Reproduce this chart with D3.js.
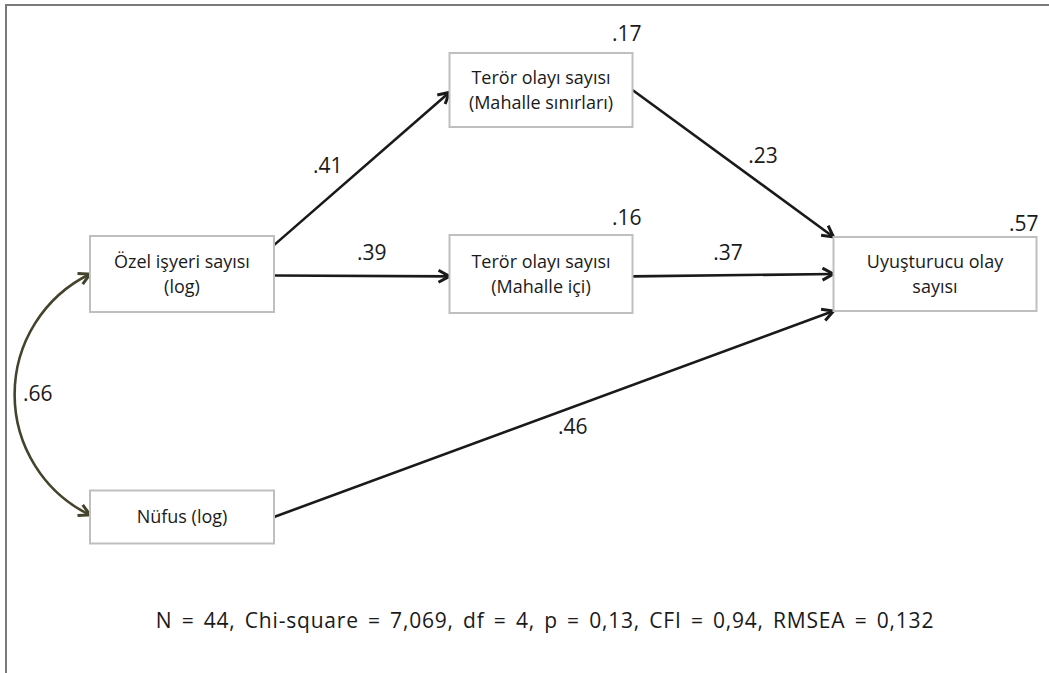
<!DOCTYPE html>
<head>
<meta charset="utf-8">
<title>Path model</title>
<style>
  body { margin: 0; background: #fff; }
  text { font-family: "Open Sans", sans-serif; fill: #1a1a1a; }
</style>
</head>
<body>
<script src="https://d3js.org/d3.v7.min.js"></script>
<script>
// variables of the model
let nodeIds = ["ozel", "nufus", "sinir", "ici", "uyus"];
let nodeLabels = [
  ["Özel işyeri sayısı", "(log)"],
  ["Nüfus (log)"],
  ["Terör olayı sayısı", "(Mahalle sınırları)"],
  ["Terör olayı sayısı", "(Mahalle içi)"],
  ["Uyuşturucu olay", "sayısı"]
];
// explained variance shown above the endogenous boxes
let r2Nodes = ["sinir", "ici", "uyus"];
let r2Values = [".17", ".16", ".57"];

// direct paths
let pathFrom = ["ozel", "ozel", "sinir", "ici", "nufus"];
let pathTo   = ["sinir", "ici", "uyus", "uyus", "uyus"];
let pathCoef = [".41", ".39", ".23", ".37", ".46"];

// correlation between the exogenous variables
let corrFrom = "ozel", corrTo = "nufus", corrCoef = ".66";

let fitText = "N = 44, Chi-square = 7,069, df = 4, p = 0,13, CFI = 0,94, RMSEA = 0,132";

// ---- layout (grid columns / rows, not data) ----
let width = 1049, height = 673;
let grid = {
  ozel:  {col: 0, row: 1, w: 184, h: 76},
  nufus: {col: 0, row: 2, w: 184, h: 53},
  sinir: {col: 1, row: 0, w: 183, h: 74},
  ici:   {col: 1, row: 1, w: 183, h: 78},
  uyus:  {col: 2, row: 1, w: 203, h: 74}
};
let x = d3.scaleOrdinal().domain([0, 1, 2]).range([182, 541, 935]);
let y = d3.scaleOrdinal().domain([0, 1, 2]).range([90, 274, 517]);

let box = {};
nodeIds.forEach(function (id, i) {
  let g = grid[id];
  let cx = x(g.col), cy = y(g.row);
  box[id] = {id: id, lines: nodeLabels[i], cx: cx, cy: cy,
    x0: cx - g.w / 2, x1: cx + g.w / 2, y0: cy - g.h / 2, y1: cy + g.h / 2};
});

// where each arrow leaves / enters (fraction of box height)
let anchors = [
  {s: 0.12, t: 0.53},
  {s: 0.52, t: 0.53},
  {s: 0.50, t: 0.0},
  {s: 0.53, t: 0.50},
  {s: 0.50, t: 1.0}
];

let svg = d3.select("body").append("svg")
  .attr("width", width)
  .attr("height", height);

// frame
svg.append("line")
  .attr("x1", 5).attr("y1", 5).attr("x2", width).attr("y2", 5)
  .attr("stroke", "#7a7a7a").attr("stroke-width", 2);
svg.append("line")
  .attr("x1", 6).attr("y1", 4).attr("x2", 6).attr("y2", height)
  .attr("stroke", "#7a7a7a").attr("stroke-width", 2);

let defs = svg.append("defs");
function addMarker(id, color) {
  defs.append("marker")
    .attr("id", id)
    .attr("viewBox", "0 0 15 15")
    .attr("refX", 13).attr("refY", 7.5)
    .attr("markerWidth", 15).attr("markerHeight", 15)
    .attr("markerUnits", "userSpaceOnUse")
    .attr("orient", "auto-start-reverse")
    .append("path")
    .attr("d", "M2,1.5 L13,7.5 L2,13.5")
    .attr("fill", "none")
    .attr("stroke", color)
    .attr("stroke-width", 3)
    .attr("stroke-linejoin", "miter");
}
addMarker("arr", "#1a1a1a");
addMarker("arrCorr", "#45432c");

// direct paths
let edges = pathFrom.map(function (f, i) {
  let a = box[f], b = box[pathTo[i]];
  return {
    x1: a.x1, y1: a.y0 + anchors[i].s * (a.y1 - a.y0),
    x2: b.x0, y2: b.y0 + anchors[i].t * (b.y1 - b.y0),
    coef: pathCoef[i]
  };
});

svg.selectAll(".path")
  .data(edges)
  .enter()
  .append("line")
  .attr("class", "path")
  .attr("x1", d => d.x1).attr("y1", d => d.y1)
  .attr("x2", d => d.x2).attr("y2", d => d.y2)
  .attr("stroke", "#1a1a1a")
  .attr("stroke-width", 2.6)
  .attr("marker-end", "url(#arr)");

// coefficient labels, offset from the middle of each arrow
let labelOffset = [[-34, 4], [10, -16], [30, -1], [-5, -15], [19, 20]];
svg.selectAll(".coef")
  .data(edges)
  .enter()
  .append("text")
  .attr("class", "coef")
  .attr("x", (d, i) => (d.x1 + d.x2) / 2 + labelOffset[i][0])
  .attr("y", (d, i) => (d.y1 + d.y2) / 2 + labelOffset[i][1])
  .attr("text-anchor", "middle")
  .style("font-size", "21px")
  .text(d => d.coef);

// correlation arc
let ca = box[corrFrom], cb = box[corrTo];
let cy1 = ca.cy, cy2 = cb.cy - 2;
svg.append("path")
  .attr("d", `M${ca.x0},${cy1} A134,134 0 0 0 ${cb.x0},${cy2}`)
  .attr("fill", "none")
  .attr("stroke", "#45432c")
  .attr("stroke-width", 2.6)
  .attr("marker-start", "url(#arrCorr)")
  .attr("marker-end", "url(#arrCorr)");
svg.append("text")
  .attr("x", 23).attr("y", (cy1 + cy2) / 2 + 6)
  .style("font-size", "21px")
  .text(corrCoef);

// boxes
let nodes = svg.selectAll(".node")
  .data(nodeIds.map(id => box[id]))
  .enter()
  .append("g")
  .attr("class", "node");

nodes.append("rect")
  .attr("x", d => d.x0).attr("y", d => d.y0)
  .attr("width", d => d.x1 - d.x0).attr("height", d => d.y1 - d.y0)
  .attr("fill", "#fff")
  .attr("stroke", "#bfbfbf")
  .attr("stroke-width", 2);

nodes.each(function (d) {
  let n = d.lines.length;
  d3.select(this).selectAll("text")
    .data(d.lines)
    .enter()
    .append("text")
    .attr("x", d.cx)
    .attr("y", (l, i) => d.cy + (i - (n - 1) / 2) * 25)
    .attr("dy", "0.35em")
    .attr("text-anchor", "middle")
    .style("font-size", "18px")
    .text(l => l);
});

// R squared
let r2Shift = [[9, 12], [9, 10], [2, 6]];
svg.selectAll(".r2")
  .data(r2Nodes)
  .enter()
  .append("text")
  .attr("class", "r2")
  .attr("x", (d, i) => box[d].x1 + r2Shift[i][0])
  .attr("y", (d, i) => box[d].y0 - r2Shift[i][1])
  .attr("text-anchor", "end")
  .style("font-size", "21px")
  .text((d, i) => r2Values[i]);

// fit indices
svg.append("text")
  .attr("x", 545).attr("y", 628)
  .attr("text-anchor", "middle")
  .style("font-size", "21px")
  .style("letter-spacing", "0.8px")
  .style("word-spacing", "3px")
  .text(fitText);
</script>
</body>
